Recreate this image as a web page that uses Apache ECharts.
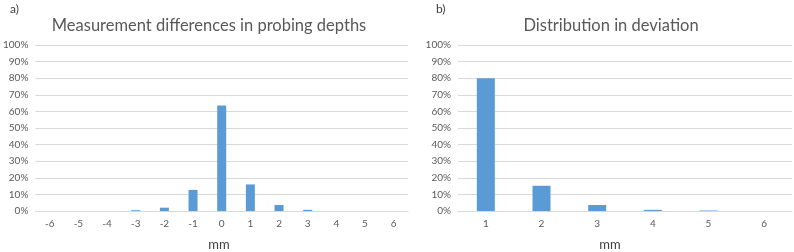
<!DOCTYPE html>
<html>
<head>
<meta charset="utf-8">
<script src="https://cdn.jsdelivr.net/npm/echarts@6/dist/echarts.min.js"></script>
<style>
  html, body { margin: 0; padding: 0; background: #fff; }
  #chart { width: 794px; height: 252px; }
</style>
</head>
<body>
<div id="chart"></div>
<script>
// a) measurement differences
var diffCategories = ["-6", "-5", "-4", "-3", "-2", "-1", "0", "1", "2", "3", "4", "5", "6"];
var diffValues = [0, 0, 0, 0.005, 0.02, 0.127, 0.635, 0.16, 0.036, 0.007, 0, 0, 0];

// b) distribution in deviation
var devCategories = ["1", "2", "3", "4", "5", "6"];
var devValues = [0.80, 0.152, 0.036, 0.007, 0.003, 0];

var FONT = "Lato";
var GREY = "#595959";

var chart = echarts.init(document.getElementById("chart"));

function yAxisCfg(idx) {
  return {
    gridIndex: idx,
    type: "value",
    min: 0,
    max: 1,
    interval: 0.1,
    axisLine: { show: false },
    axisTick: { show: false },
    splitLine: { lineStyle: { color: "#d9d9d9", width: 1 } },
    axisLabel: {
      color: GREY,
      fontFamily: FONT,
      fontSize: 10,
      margin: 7,
      formatter: function (v) { return Math.round(v * 100) + "%"; }
    }
  };
}

function xAxisCfg(idx, cats) {
  return {
    gridIndex: idx,
    type: "category",
    data: cats,
    axisLine: { lineStyle: { color: "#d9d9d9" } },
    axisTick: { show: false },
    axisLabel: { color: GREY, fontFamily: FONT, fontSize: 10, margin: 8 }
  };
}

chart.setOption({
  animation: false,
  grid: [
    { left: 33, right: 386, top: 45, bottom: 41 },
    { left: 458, right: 2, top: 45, bottom: 41 }
  ],
  xAxis: [xAxisCfg(0, diffCategories), xAxisCfg(1, devCategories)],
  yAxis: [yAxisCfg(0), yAxisCfg(1)],
  series: [
    {
      type: "bar",
      xAxisIndex: 0,
      yAxisIndex: 0,
      data: diffValues,
      barWidth: 9,
      itemStyle: { color: "#5b9bd5" }
    },
    {
      type: "bar",
      xAxisIndex: 1,
      yAxisIndex: 1,
      data: devValues,
      barWidth: 18,
      itemStyle: { color: "#5b9bd5" }
    }
  ],
  graphic: [
    { type: "text", x: 10, y: 3, style: { text: "a)", fill: "#404040", font: "12px " + FONT } },
    { type: "text", x: 209, y: 17, style: { text: "Measurement differences in probing depths", fill: GREY, font: "16.5px " + FONT, textAlign: "center" } },
    { type: "text", x: 436, y: 3, style: { text: "b)", fill: "#404040", font: "12px " + FONT } },
    { type: "text", x: 611, y: 17, style: { text: "Distribution in deviation", fill: GREY, font: "16.5px " + FONT, textAlign: "center" } },
    { type: "text", x: 219, y: 238, style: { text: "mm", fill: "#404040", font: "13px " + FONT, textAlign: "center" } },
    { type: "text", x: 610, y: 238, style: { text: "mm", fill: "#404040", font: "13px " + FONT, textAlign: "center" } }
  ]
});
</script>
</body>
</html>
